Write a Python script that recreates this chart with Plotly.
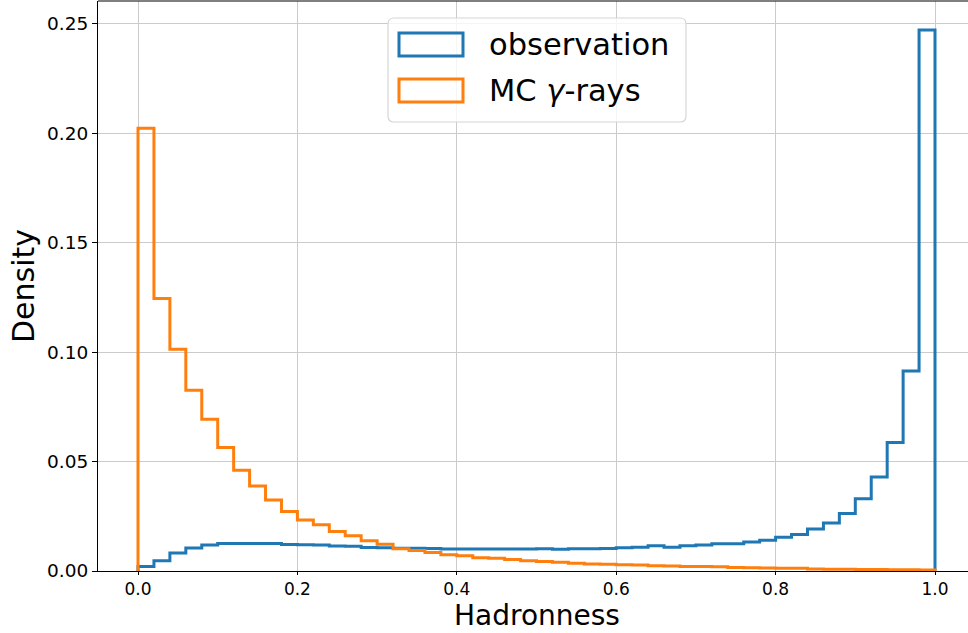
import numpy as np
import plotly.graph_objects as go

# Hadronness histogram, 50 bins on [0, 1], normalised so each series sums to 1
bin_edges = np.linspace(0.0, 1.0, 51)

observation = [
    0.0020, 0.0047, 0.0082, 0.0105, 0.0119, 0.0126, 0.0126, 0.0126, 0.0126, 0.0121,
    0.0120, 0.0119, 0.0114, 0.0113, 0.0107, 0.0106, 0.0104, 0.0104, 0.0103, 0.0100,
    0.0100, 0.0100, 0.0100, 0.0100, 0.0100, 0.0102, 0.0099, 0.0102, 0.0102, 0.0103,
    0.0106, 0.0108, 0.0115, 0.0109, 0.0115, 0.0119, 0.0124, 0.0125, 0.0133, 0.0140,
    0.0154, 0.0167, 0.0192, 0.0219, 0.0263, 0.0330, 0.0430, 0.0587, 0.0914, 0.2473,
]

mc_gamma = [
    0.2024, 0.1245, 0.1013, 0.0826, 0.0693, 0.0564, 0.0461, 0.0389, 0.0325, 0.0272,
    0.0233, 0.0211, 0.0181, 0.0161, 0.0138, 0.0122, 0.0102, 0.0094, 0.0084, 0.0074,
    0.0070, 0.0061, 0.0058, 0.0052, 0.0047, 0.0043, 0.0040, 0.0035, 0.0032, 0.0031,
    0.0028, 0.0027, 0.0024, 0.0023, 0.0021, 0.0020, 0.0019, 0.0016, 0.0015, 0.0014,
    0.0013, 0.0012, 0.0009, 0.0008, 0.0008, 0.0007, 0.0007, 0.0006, 0.0006, 0.0005,
]

series_names = ["observation", "MC <i>γ</i>-rays"]
series_colors = ["#1f77b4", "#ff7f0e"]

x_tickvals = [0.0, 0.2, 0.4, 0.6, 0.8, 1.0]
x_ticktext = ["0.0", "0.2", "0.4", "0.6", "0.8", "1.0"]
y_tickvals = [0.00, 0.05, 0.10, 0.15, 0.20, 0.25]
y_ticktext = ["0.00", "0.05", "0.10", "0.15", "0.20", "0.25"]

FONT = "DejaVu Sans"
W, H = 968, 633
M_L, M_R, M_T, M_B = 98, 0, 1, 62
PW, PH = W - M_L - M_R, H - M_T - M_B


def step_outline(edges, values):
    """Outline of an unfilled step histogram (no bottom edge)."""
    xs = [edges[0]] + list(edges) + [edges[-1]]
    ys = [0.0] + list(values) + [values[-1], 0.0]
    return xs, ys


fig = go.Figure()
for vals, color in zip([observation, mc_gamma], series_colors):
    xs, ys = step_outline(bin_edges, vals)
    fig.add_trace(go.Scatter(
        x=xs, y=ys, mode="lines", line_shape="hv",
        line=dict(color=color, width=3),
        showlegend=False, hoverinfo="skip",
    ))


def px(x):
    return (x - M_L) / PW


def py(y):
    return (H - M_B - y) / PH


# legend frame with rounded corners
bx0, bx1, by0, by1, r = 388, 686, 18, 122, 6
rx, ry = r / PW, r / PH
X0, X1, Y0, Y1 = px(bx0), px(bx1), py(by1), py(by0)
frame = (
    f"M{X0 + rx},{Y0} L{X1 - rx},{Y0} Q{X1},{Y0} {X1},{Y0 + ry} "
    f"L{X1},{Y1 - ry} Q{X1},{Y1} {X1 - rx},{Y1} "
    f"L{X0 + rx},{Y1} Q{X0},{Y1} {X0},{Y1 - ry} "
    f"L{X0},{Y0 + ry} Q{X0},{Y0} {X0 + rx},{Y0} Z"
)
shapes = [dict(type="path", path=frame, xref="paper", yref="paper",
               line=dict(color="#d6d6d6", width=1.2),
               fillcolor="rgba(255,255,255,0.8)", layer="above")]
annotations = []
for i, (name, color) in enumerate(zip(series_names, series_colors)):
    top = 33 + i * 46
    shapes.append(dict(type="rect", xref="paper", yref="paper",
                       x0=px(399), x1=px(463), y0=py(top + 23), y1=py(top),
                       line=dict(color=color, width=3),
                       fillcolor="rgba(0,0,0,0)", layer="above"))
    annotations.append(dict(text=name, xref="paper", yref="paper",
                            x=px(487), y=py(top + 11.5), xanchor="left", yanchor="middle",
                            showarrow=False, font=dict(family=FONT, size=30.5, color="#000000")))

# x-axis title placed below the tick labels
annotations.append(dict(text="Hadronness", xref="paper", yref="paper",
                        x=0.5 * (px(98) + px(975)), y=py(615), xanchor="center", yanchor="middle",
                        showarrow=False, font=dict(family=FONT, size=28, color="#000000")))

# top frame line of the axes
shapes.append(dict(type="line", xref="paper", yref="paper", x0=0, x1=1, y0=1, y1=1,
                   line=dict(color="#000000", width=1), layer="above"))

fig.update_layout(
    width=W, height=H,
    margin=dict(l=M_L, r=M_R, t=M_T, b=M_B, pad=0),
    paper_bgcolor="white", plot_bgcolor="white",
    font=dict(family=FONT, color="#000000"),
    shapes=shapes, annotations=annotations,
    xaxis=dict(
        range=[-0.0502, 1.0414], tickvals=x_tickvals, ticktext=x_ticktext,
        showgrid=True, gridcolor="#cbcbcb", gridwidth=1.2,
        showline=True, linecolor="#000000", linewidth=1,
        ticks="outside", ticklen=3, tickwidth=1, tickcolor="#000000",
        tickfont=dict(family=FONT, size=17, color="#000000"),
        zeroline=False, automargin=False,
    ),
    yaxis=dict(
        range=[0, 0.2605], tickvals=y_tickvals, ticktext=y_ticktext,
        showgrid=True, gridcolor="#cbcbcb", gridwidth=1.2,
        showline=True, linecolor="#000000", linewidth=1,
        ticks="outside", ticklen=5, tickwidth=1, tickcolor="#000000",
        tickfont=dict(family=FONT, size=18.5, color="#000000"),
        title=dict(text="Density", font=dict(family=FONT, size=30, color="#000000"), standoff=3),
        zeroline=False, automargin=False,
    ),
)

fig.write_html("out.html")
